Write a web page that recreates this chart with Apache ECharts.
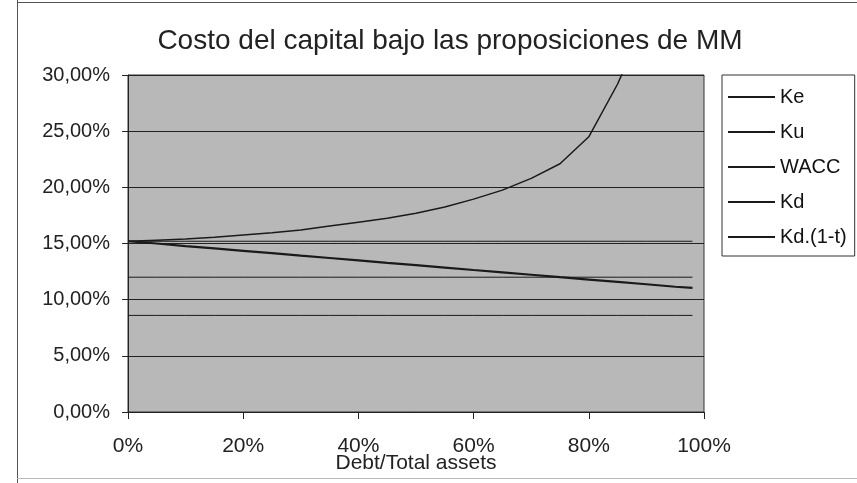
<!DOCTYPE html>
<html>
<head>
<meta charset="utf-8">
<script src="https://cdn.jsdelivr.net/npm/echarts@6/dist/echarts.min.js"></script>
<style>
html,body{margin:0;padding:0;background:#fff;}
#c{width:857px;height:483px;}
</style>
</head>
<body>
<div id="c"></div>
<script>
// Debt / Total assets (%)
var debtRatio = [0, 5, 10, 15, 20, 25, 30, 35, 40, 45, 50, 55, 60, 65, 70, 75, 80, 85, 90, 95, 98];
// Cost of capital series (%)
var ke   = [15.2, 15.3, 15.4, 15.55, 15.75, 15.95, 16.2, 16.55, 16.9, 17.25, 17.7, 18.25, 18.95, 19.75, 20.8, 22.1, 24.5, 29.2, 35, null, null];
var ku   = [15.2, 15.2, 15.2, 15.2, 15.2, 15.2, 15.2, 15.2, 15.2, 15.2, 15.2, 15.2, 15.2, 15.2, 15.2, 15.2, 15.2, 15.2, 15.2, 15.2, 15.2];
var wacc = [15.2, 15.0, 14.77, 14.56, 14.35, 14.14, 13.92, 13.71, 13.5, 13.28, 13.07, 12.86, 12.64, 12.43, 12.22, 12.0, 11.79, 11.58, 11.37, 11.15, 11.05];
var kd   = [12, 12, 12, 12, 12, 12, 12, 12, 12, 12, 12, 12, 12, 12, 12, 12, 12, 12, 12, 12, 12];
var kdt  = [8.6, 8.6, 8.6, 8.6, 8.6, 8.6, 8.6, 8.6, 8.6, 8.6, 8.6, 8.6, 8.6, 8.6, 8.6, 8.6, 8.6, 8.6, 8.6, 8.6, 8.6];
var seriesNames = ['Ke', 'Ku', 'WACC', 'Kd', 'Kd.(1-t)'];
var xTicks = [0, 20, 40, 60, 80, 100];
var yTicks = [0, 5, 10, 15, 20, 25, 30];

function pairs(arr) {
  return debtRatio.map(function (x, i) { return [x, arr[i]]; });
}
var allData = [ke, ku, wacc, kd, kdt];
var widths = [1.5, 1, 2.2, 1, 1];

var chart = echarts.init(document.getElementById('c'), null, {renderer: 'canvas'});
var font = 'Liberation Sans, Arial, sans-serif';
chart.setOption({
  backgroundColor: '#ffffff',
  animation: false,
  title: {
    text: 'Costo del capital bajo las proposiciones de MM',
    left: 445,
    textAlign: 'center',
    top: 22,
    textStyle: {fontFamily: font, fontSize: 28, fontWeight: 'normal', color: '#222'}
  },
  graphic: [
    {type: 'line', shape: {x1: 17.5, y1: 0, x2: 17.5, y2: 483}, style: {stroke: '#555', lineWidth: 1}},
    {type: 'line', shape: {x1: 17, y1: 2.5, x2: 857, y2: 2.5}, style: {stroke: '#555', lineWidth: 1}},
    {type: 'line', shape: {x1: 17, y1: 478.5, x2: 857, y2: 478.5}, style: {stroke: '#bbb', lineWidth: 1}}
  ],
  legend: {
    data: seriesNames,
    orient: 'vertical',
    left: 722,
    top: 75,
    padding: [12, 8, 9, 5],
    itemWidth: 47,
    itemHeight: 14,
    itemGap: 15,
    itemTextGap: 8,
    backgroundColor: '#fff',
    borderColor: '#333',
    borderWidth: 1,
    itemStyle: {color: 'rgba(0,0,0,0)', borderWidth: 0},
    textStyle: {fontFamily: font, fontSize: 20, color: '#111', lineHeight: 20}
  },
  grid: {left: 128, right: 153, top: 75, bottom: 71, show: true, outerBoundsMode: 'none', containLabel: false,
    backgroundColor: '#b8b8b8', borderColor: '#333', borderWidth: 1},
  xAxis: {
    type: 'value', min: 0, max: 100, interval: 20,
    name: 'Debt/Total assets', nameLocation: 'middle', nameGap: 41, nameMoveOverlap: false,
    nameTextStyle: {fontFamily: font, fontSize: 21, color: '#222'},
    axisLine: {show: true, lineStyle: {color: '#222', width: 1}},
    axisTick: {show: true, length: 7, lineStyle: {color: '#222'}},
    axisLabel: {margin: 24, fontFamily: font, fontSize: 21, color: '#222', formatter: function (v) { return v + '%'; }},
    splitLine: {show: false}
  },
  yAxis: {
    type: 'value', min: 0, max: 30, interval: 5,
    axisLine: {show: true, lineStyle: {color: '#222', width: 1}},
    axisTick: {show: true, length: 6, lineStyle: {color: '#222'}},
    axisLabel: {margin: 18, fontFamily: font, fontSize: 20, color: '#222',
      formatter: function (v) { return v.toFixed(2).replace('.', ',') + '%'; }},
    splitLine: {show: true, lineStyle: {color: '#222', width: 1}}
  },
  series: seriesNames.map(function (n, i) {
    return {
      name: n, type: 'line', symbol: 'none', clip: true, connectNulls: false,
      data: pairs(allData[i]),
      lineStyle: {color: '#1a1a1a', width: widths[i]},
      itemStyle: {color: '#1a1a1a'}
    };
  })
});
</script>
</body>
</html>
